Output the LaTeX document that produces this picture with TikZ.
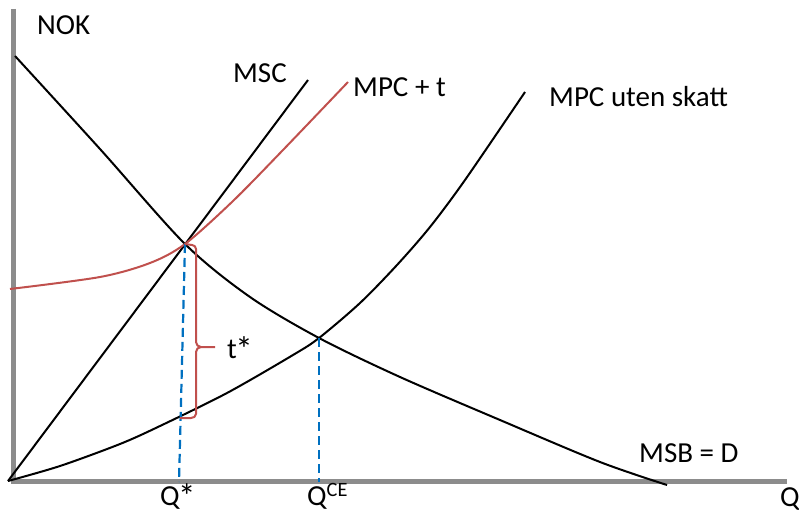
\documentclass[tikz,border=0pt]{standalone}
\usepackage{fontspec}
\setmainfont{Carlito}
\definecolor{axisgray}{HTML}{8C8C8C}
\definecolor{taxred}{HTML}{C0504D}
\definecolor{dashblue}{HTML}{0070C0}
\newcommand{\bigast}{\kern-1.5pt\raisebox{-3pt}{\fontsize{35}{35}\selectfont *}}
\begin{document}
\begin{tikzpicture}[x=1pt,y=-1pt,
  axisline/.style={draw=axisgray,line width=5.5pt},
  curve/.style={draw=black,line width=2pt},
  taxcurve/.style={draw=taxred,line width=2pt},
  guide/.style={draw=dashblue,line width=2.2pt,dash pattern=on 9pt off 5pt},
  lbl/.style={anchor=base west,inner sep=0pt,font=\fontsize{29}{34}\selectfont}]
\useasboundingbox (0,0) rectangle (799,513);
\coordinate (ytop) at (13.5,9);
\coordinate (O) at (13.5,481.5);
\coordinate (xend) at (787,481.5);
\coordinate (E1) at (185,244);
\coordinate (E2) at (319,338);
\coordinate (Qs) at (179,482);
\coordinate (Qce) at (319,482);
% axes
\draw[axisline] (ytop) -- (13.5,484.25);
\draw[axisline] (10.75,481.5) -- (xend);
% MSB = D
\draw[curve] plot[smooth,tension=0.5] coordinates {(15,56) (100,149) (185,244) (250,297) (319,338) (400,377) (500,420) (600,462) (667,485)};
% MSC
\draw[curve] (8,481) -- (308,80);
% MPC uten skatt
\draw[curve] plot[smooth,tension=0.5] coordinates {(8,481) (60,466) (120,444) (160,426) (227,393) (293,355) (319,338) (360,303) (397,265) (430,227) (465,180) (525,92)};
% MPC + t
\draw[taxcurve] plot[smooth,tension=0.5] coordinates {(10,289) (100,277) (150,263) (185,244) (233,201) (283,150) (348,82)};
% dashed guides
\draw[guide] (E1) -- (Qs);
\draw[guide] (E2) -- (Qce);
% brace
\coordinate (btip) at (215,347);
\draw[taxcurve,line join=round] (E1) -- (192,245) to[out=0,in=90] (196,249) -- (196,342)
  to[out=-90,in=180] (201,347) -- (btip);
\draw[taxcurve,line join=round] (201,347) to[out=180,in=90] (196,352) -- (196,414)
  to[out=-90,in=0] (191,418) -- (180,418);
% labels
\node[lbl] (nok) at (37,35) {NOK};
\node[lbl] (msc) at (233,83) {MSC};
\node[lbl] (mpct) at (353,97) {MPC + t};
\node[lbl] (mpc) at (549,107) {MPC uten skatt};
\node[lbl] (tstar) at (227,358) {t\bigast};
\node[lbl] (msb) at (639,462) {MSB = D};
\node[lbl] (qstar) at (160,505.5) {Q\bigast};
\node[lbl] (qce) at (307,505.5) {Q\textsuperscript{CE}};
\node[lbl] (q) at (780,506) {Q};
\end{tikzpicture}
\end{document}
